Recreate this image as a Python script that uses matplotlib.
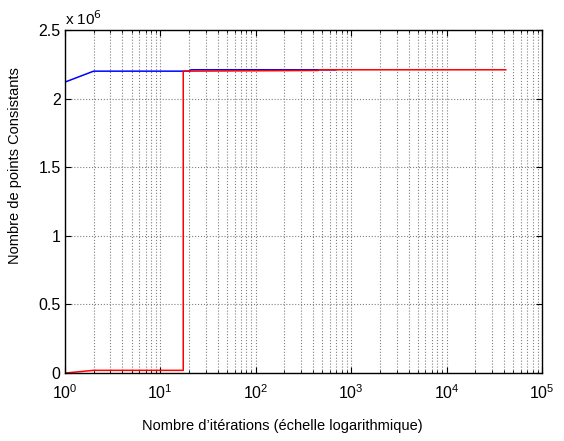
import numpy as np
import matplotlib.pyplot as plt
from matplotlib.ticker import FuncFormatter, LogLocator, NullFormatter

plt.rcParams['font.family'] = ['Liberation Sans', 'DejaVu Sans']

#  Blue series: iterations and number of consistent points
iter_blue = [1, 2, 20, 21, 690]
pts_blue = [2.12e6, 2.20e6, 2.20e6, 2.21e6, 2.21e6]

#  Red series
iter_red = [1, 2, 17.4, 17.4, 450, 460, 41700]
pts_red = [0.0, 0.02e6, 0.02e6, 2.20e6, 2.205e6, 2.21e6, 2.21e6]

y_ticks = [0, 0.5e6, 1e6, 1.5e6, 2e6, 2.5e6]

fig = plt.figure(figsize=(5.64, 4.41), dpi=100)
ax = fig.add_axes([0.115, 0.154, 0.846, 0.778])

ax.plot(iter_blue, pts_blue, color='#0000ff', linewidth=1.1)
ax.plot(iter_red, pts_red, color='#ff0000', linewidth=1.1)

ax.set_xscale('log')
ax.set_xlim(1, 1e5)
ax.set_ylim(0, 2.5e6)
ax.set_yticks(y_ticks)
ax.yaxis.set_major_formatter(FuncFormatter(lambda v, p: '%g' % (v / 1e6)))
ax.xaxis.set_minor_locator(LogLocator(base=10, subs=np.arange(2, 10)))
ax.xaxis.set_minor_formatter(NullFormatter())

ax.grid(True, which='major', linestyle=':', color='#808080', linewidth=0.8)
ax.grid(True, which='minor', axis='x', linestyle=':', color='#808080',
        linewidth=0.8)

ax.tick_params(which='both', direction='in', top=True, right=True,
               labelsize=11.5)
ax.tick_params(which='major', length=4)
ax.tick_params(which='minor', length=2)
ax.tick_params(axis='x', which='both', pad=7)
ax.tick_params(axis='y', which='both', pad=3)
for sp in ax.spines.values():
    sp.set_linewidth(1.0)

ax.text(0.0, 1.005, r'x 10$^{6}$', transform=ax.transAxes, fontsize=11,
        ha='left', va='bottom')

ax.set_xlabel("Nombre d\u2019itérations (échelle logarithmique)",
              fontsize=10.5)
ax.xaxis.set_label_coords(0.455, -0.135)
ax.set_ylabel('Nombre de points Consistants', fontsize=10.5)
ax.yaxis.set_label_coords(-0.09, 0.605)

fig.savefig('out.png', dpi=100)
